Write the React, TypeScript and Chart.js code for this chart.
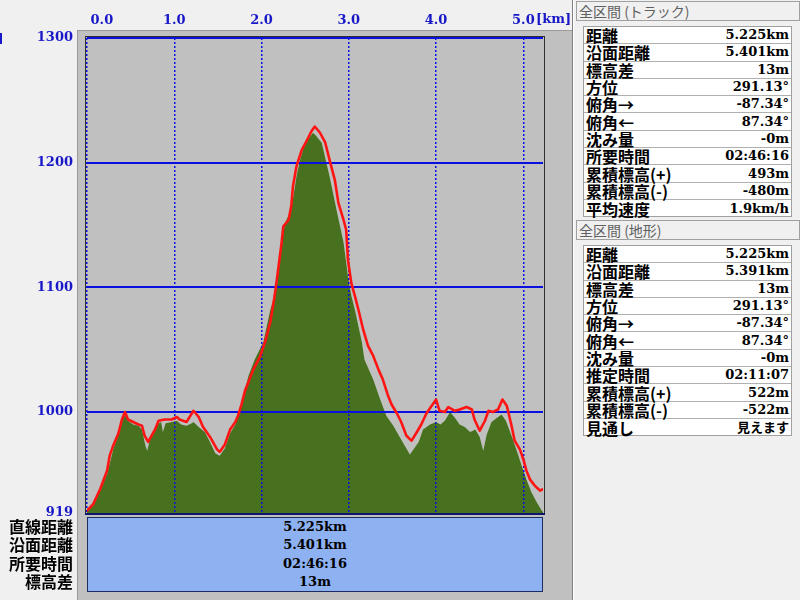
import React, { useEffect, useRef } from 'react';
import { Chart, registerables } from 'chart.js';
Chart.register(...registerables);

// ---- data ----
const totalKm = 5.225;
const elevMin = 919;
const elevMax = 1300;
const xTickValues = [0, 1, 2, 3, 4, 5];
const yTickValues = [919, 1000, 1100, 1200, 1300];

// track (red line)
const trackKm = [
  0.0, 0.07, 0.15, 0.23, 0.26, 0.3, 0.36, 0.4, 0.435, 0.47, 0.53, 0.59, 0.63, 0.66, 0.7, 0.74, 0.78, 0.82, 0.89, 0.97,
  1.03, 1.06, 1.14, 1.22, 1.28, 1.33, 1.41, 1.49, 1.52, 1.58, 1.64, 1.7, 1.73, 1.77, 1.81, 1.85, 1.905, 1.98,
  2.04, 2.1, 2.15, 2.19, 2.23, 2.25, 2.31, 2.34, 2.36, 2.4, 2.46, 2.52, 2.57, 2.61, 2.67, 2.73, 2.78, 2.84, 2.88, 2.94, 2.97, 2.99,
  3.03, 3.07, 3.11, 3.165, 3.22, 3.28, 3.34, 3.39, 3.45, 3.49, 3.55, 3.6, 3.66, 3.72, 3.78, 3.83, 3.89, 3.95,
  4.0, 4.04, 4.1, 4.14, 4.215, 4.27, 4.35, 4.41, 4.44, 4.5, 4.56, 4.6, 4.65, 4.71, 4.76, 4.81, 4.865, 4.9, 4.96,
  5.0, 5.035, 5.075, 5.13, 5.19, 5.225,
];
const trackElev = [
  921, 926, 938, 953, 965, 973, 983, 994, 1000, 994, 992, 990, 989, 981, 976, 981, 986, 993, 994, 994,
  996, 994, 992, 1001, 996, 988, 980, 970, 968, 974, 986, 992, 997, 1006, 1017, 1024, 1034, 1044,
  1056, 1072, 1093, 1114, 1136, 1149, 1154, 1165, 1181, 1197, 1210, 1218, 1225, 1229, 1224, 1216, 1202, 1186, 1168, 1154, 1146, 1122,
  1103, 1093, 1082, 1066, 1053, 1045, 1034, 1026, 1013, 1006, 999, 992, 981, 977, 984, 990, 999, 1005,
  1010, 1001, 1000, 1004, 1001, 1002, 1004, 1002, 994, 985, 993, 1001, 1000, 1002, 1010, 1005, 989, 977, 970,
  962, 953, 946, 941, 937, 938,
];

// terrain (green area)
const terrainKm = [
  0.0, 0.07, 0.15, 0.23, 0.3, 0.36, 0.4, 0.435, 0.47, 0.53, 0.59, 0.63, 0.67, 0.69, 0.72, 0.76, 0.8, 0.85, 0.87, 0.9, 0.97,
  1.03, 1.08, 1.14, 1.2, 1.22, 1.28, 1.35, 1.41, 1.47, 1.52, 1.58, 1.64, 1.7, 1.75, 1.85, 1.92,
  2.02, 2.1, 2.17, 2.23, 2.27, 2.34, 2.4, 2.44, 2.5, 2.59, 2.62, 2.69, 2.78, 2.86, 2.94, 2.99,
  3.03, 3.07, 3.15, 3.18, 3.28, 3.36, 3.43, 3.51, 3.6, 3.7, 3.8, 3.85, 3.93,
  4.0, 4.05, 4.1, 4.16, 4.22, 4.27, 4.33, 4.39, 4.45, 4.5, 4.54, 4.58, 4.635, 4.69, 4.75, 4.8, 4.865, 4.92, 4.98,
  5.035, 5.09, 5.15, 5.21, 5.225,
];
const terrainElev = [
  921, 925, 937, 950, 970, 982, 993, 998, 993, 990, 989, 986, 973, 969, 978, 983, 990, 992, 984, 991, 992,
  993, 990, 989, 991, 992, 988, 984, 976, 967, 965, 971, 983, 990, 1002, 1029, 1042,
  1056, 1082, 1098, 1136, 1152, 1162, 1189, 1202, 1216, 1224, 1222, 1216, 1189, 1162, 1136, 1109,
  1093, 1082, 1056, 1042, 1026, 1010, 997, 989, 978, 966, 976, 986, 990,
  992, 990, 993, 1000, 995, 990, 988, 984, 986, 980, 969, 982, 992, 995, 998, 993, 981, 970, 957,
  946, 936, 928, 921, 920,
];

const summaryLabels = ['直線距離', '沿面距離', '所要時間', '標高差'];
const summaryValues = ['5.225km', '5.401km', '02:46:16', '13m'];

const trackTitle = '全区間 (トラック)';
const trackLabels = ['距離', '沿面距離', '標高差', '方位', '俯角→', '俯角←', '沈み量', '所要時間', '累積標高(+)', '累積標高(-)', '平均速度'];
const trackValues = ['5.225km', '5.401km', '13m', '291.13°', '-87.34°', '87.34°', '-0m', '02:46:16', '493m', '-480m', '1.9km/h'];

const terrainTitle = '全区間 (地形)';
const terrainLabels = ['距離', '沿面距離', '標高差', '方位', '俯角→', '俯角←', '沈み量', '推定時間', '累積標高(+)', '累積標高(-)', '見通し'];
const terrainValues = ['5.225km', '5.391km', '13m', '291.13°', '-87.34°', '87.34°', '-0m', '02:11:07', '522m', '-522m', '見えます'];

// ---- styles ----
const JP = "'Noto Sans CJK JP', sans-serif";
const SERIF = "'DejaVu Serif', 'Noto Sans CJK JP', serif";
const TICK_BLUE = '#1818c8';
const GRID_BLUE = '#0a10e0';

const profilePlugin = {
  id: 'profilePlugin',
  beforeDraw(chart: any) {
    const { ctx, chartArea: a } = chart;
    ctx.save();
    ctx.fillStyle = '#c0c0c0';
    ctx.fillRect(a.left, a.top, a.right - a.left, a.bottom - a.top);
    ctx.restore();
  },
  beforeDatasetDraw(chart: any, args: any) {
    if (args.index === 0) return false;
    if (args.index === 2) {
      chart.ctx.save();
      chart.ctx.translate(3, 0);
    }
    return true;
  },
  afterDatasetDraw(chart: any, args: any) {
    if (args.index === 2) chart.ctx.restore();
  },
  afterDraw(chart: any) {
    const { ctx, chartArea: a } = chart;
    // red track line above grid
    ctx.save();
    ctx.beginPath();
    ctx.rect(a.left, a.top - 2, a.right - a.left, a.bottom - a.top + 4);
    ctx.clip();
    chart.getDatasetMeta(0).controller.draw();
    ctx.restore();
    // plot frame
    ctx.save();
    ctx.strokeStyle = '#303030';
    ctx.lineWidth = 1;
    ctx.strokeRect(a.left - 1.5, a.top - 1.5, a.right - a.left + 3, a.bottom - a.top + 3);
    ctx.strokeStyle = '#0c1870';
    ctx.lineWidth = 2;
    ctx.beginPath();
    ctx.moveTo(a.left - 2, a.bottom + 1);
    ctx.lineTo(a.right + 2, a.bottom + 1);
    ctx.stroke();
    ctx.restore();
  },
};

function ProfileChart() {
  const ref = useRef<HTMLCanvasElement>(null);
  useEffect(() => {
    if (!ref.current) return;
    const track = trackKm.map((x, i) => ({ x, y: trackElev[i] }));
    const terrain = terrainKm.map((x, i) => ({ x, y: terrainElev[i] }));
    const chart = new Chart(ref.current, {
      type: 'line',
      data: {
        datasets: [
          {
            data: track,
            borderColor: '#ff1414',
            borderWidth: 2.6,
            pointRadius: 0,
            tension: 0,
            fill: false,
            borderJoinStyle: 'round',
            borderCapStyle: 'round',
          },
          {
            data: terrain,
            borderWidth: 0,
            borderColor: 'rgba(0,0,0,0)',
            backgroundColor: '#47701f',
            pointRadius: 0,
            tension: 0,
            fill: 'start',
          },
          {
            data: terrain,
            borderWidth: 0,
            borderColor: 'rgba(0,0,0,0)',
            backgroundColor: '#dedede',
            pointRadius: 0,
            tension: 0,
            fill: 'start',
          },
        ],
      } as any,
      options: {
        animation: false,
        responsive: false,
        events: [],
        layout: { padding: { top: 0, left: 0, right: 29, bottom: 87 } },
        plugins: { legend: { display: false }, tooltip: { enabled: false } },
        scales: {
          x: {
            type: 'linear',
            position: 'top',
            min: 0,
            max: totalKm,
            afterFit: (s: any) => {
              s.height = 38;
            },
            afterBuildTicks: (s: any) => {
              s.ticks = xTickValues.map((v) => ({ value: v }));
            },
            ticks: {
              autoSkip: false,
              maxRotation: 0,
              padding: 10,
              color: TICK_BLUE,
              font: { family: 'DejaVu Serif', size: 13, weight: 'bold' },
              // the first label sits just inside the plot, as in the original
              callback: (v: any) => (Number(v) === 0 ? '\u2007\u2007\u2007\u2009' : '') + Number(v).toFixed(1),
            },
            grid: { color: GRID_BLUE, lineWidth: 1.5, drawTicks: false, z: 1 },
            border: { display: false, dash: [2, 2] },
          },
          y: {
            type: 'linear',
            min: elevMin,
            max: elevMax,
            afterFit: (s: any) => {
              s.width = 87;
            },
            afterBuildTicks: (s: any) => {
              s.ticks = yTickValues.map((v) => ({ value: v }));
            },
            ticks: {
              autoSkip: false,
              padding: 14,
              color: TICK_BLUE,
              font: { family: 'DejaVu Serif', size: 13, weight: 'bold' },
              callback: (v: any) => String(v),
            },
            grid: {
              color: (c: any) => (c.tick && c.tick.value === elevMin ? 'rgba(0,0,0,0)' : GRID_BLUE),
              lineWidth: 2,
              drawTicks: false,
              z: 1,
            },
            border: { display: false },
          },
        },
      } as any,
      plugins: [profilePlugin],
    });
    return () => chart.destroy();
  }, []);
  return (
    <canvas
      ref={ref}
      width={572}
      height={600}
      style={{ position: 'absolute', left: 0, top: 0, width: 572, height: 600 }}
    />
  );
}

function InfoGroup({ top, title, labels, values }: { top: number; title: string; labels: string[]; values: string[] }) {
  const rowH = 17.3;
  return (
    <>
      <div
        style={{
          position: 'absolute',
          left: 576,
          top,
          width: 224,
          height: 20,
          boxSizing: 'border-box',
          border: '1px solid #a0a0a0',
          background: '#f0f0f0',
          color: '#606060',
          fontFamily: JP,
          fontSize: 14,
          lineHeight: '18px',
          paddingLeft: 2,
          whiteSpace: 'nowrap',
        }}
      >
        {title}
      </div>
      <div
        style={{
          position: 'absolute',
          left: 583,
          top: top + 25,
          width: 209,
          height: rowH * labels.length + 1,
          boxSizing: 'border-box',
          border: '1px solid #a0a0a0',
          background: '#ffffff',
        }}
      >
        {labels.map((lab, i) => (
          <div
            key={i}
            style={{
              position: 'absolute',
              left: 0,
              right: 0,
              top: i * rowH,
              height: rowH,
              boxSizing: 'border-box',
              borderBottom: i < labels.length - 1 ? '1px solid #b0b0b0' : 'none',
              display: 'flex',
              alignItems: 'center',
              justifyContent: 'space-between',
              padding: '0 2px 0 2px',
              whiteSpace: 'nowrap',
            }}
          >
            <span style={{ fontFamily: JP, fontSize: 16, fontWeight: 700, color: '#000', lineHeight: '16px' }}>{lab}</span>
            <span style={{ fontFamily: SERIF, fontSize: 13, fontWeight: 700, color: '#000', lineHeight: '16px' }}>
              {values[i]}
            </span>
          </div>
        ))}
      </div>
    </>
  );
}

export default function App() {
  return (
    <div
      style={{
        position: 'fixed',
        left: 0,
        top: 0,
        width: 800,
        height: 600,
        overflow: 'hidden',
        background: '#f0f0f0',
      }}
    >
      {/* gray frame around the chart */}
      <div
        style={{
          position: 'absolute',
          left: 77,
          top: 30,
          width: 495,
          height: 570,
          boxSizing: 'border-box',
          background: '#c0c0c0',
          borderTop: '1px solid #9a9a9a',
          borderLeft: '1px solid #9a9a9a',
        }}
      />
      <div style={{ position: 'absolute', left: 0, top: 33, width: 2, height: 11, background: '#1818c8' }} />
      <ProfileChart />
      <div
        style={{
          position: 'absolute',
          left: 536,
          top: 11,
          fontFamily: SERIF,
          fontSize: 13,
          fontWeight: 700,
          color: TICK_BLUE,
          lineHeight: '15px',
          whiteSpace: 'nowrap',
        }}
      >
        [km]
      </div>
      {/* summary labels */}
      <div
        style={{
          position: 'absolute',
          left: 0,
          top: 517,
          width: 73,
          textAlign: 'right',
          fontFamily: JP,
          fontSize: 16,
          fontWeight: 700,
          lineHeight: '18.3px',
          color: '#000',
          whiteSpace: 'nowrap',
        }}
      >
        {summaryLabels.map((l, i) => (
          <div key={i}>{l}</div>
        ))}
      </div>
      {/* summary box */}
      <div
        style={{
          position: 'absolute',
          left: 87,
          top: 517,
          width: 456,
          height: 75,
          boxSizing: 'border-box',
          border: '1px solid #1c2c60',
          background: '#8db1f1',
          textAlign: 'center',
          fontFamily: SERIF,
          fontSize: 13,
          fontWeight: 700,
          lineHeight: '18.3px',
          color: '#000',
        }}
      >
        {summaryValues.map((v, i) => (
          <div key={i}>{v}</div>
        ))}
      </div>
      {/* separator */}
      <div style={{ position: 'absolute', left: 572, top: 0, width: 1, height: 600, background: '#808080' }} />
      <div style={{ position: 'absolute', left: 573, top: 0, width: 1, height: 600, background: '#ffffff' }} />
      <InfoGroup top={1} title={trackTitle} labels={trackLabels} values={trackValues} />
      <InfoGroup top={220} title={terrainTitle} labels={terrainLabels} values={terrainValues} />
    </div>
  );
}
